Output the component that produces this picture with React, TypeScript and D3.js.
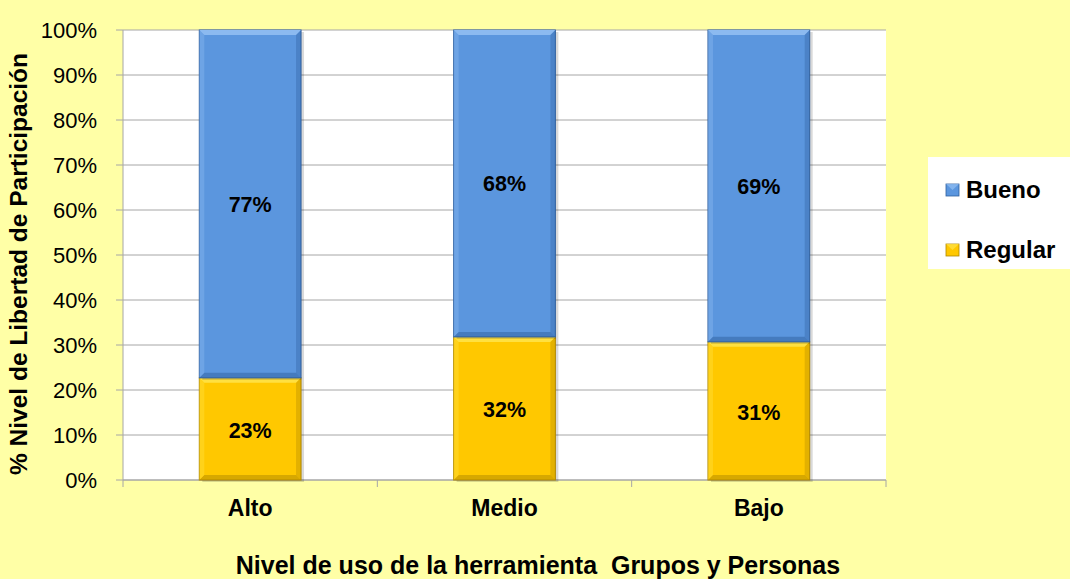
import React from "react";
import * as d3 from "d3";

const categories = ["Alto", "Medio", "Bajo"];
const regular = [22.7, 31.8, 30.7];
const bueno = [77.3, 68.2, 69.3];
const regularLabels = ["23%", "32%", "31%"];
const buenoLabels = ["77%", "68%", "69%"];
const yTicks = [0, 10, 20, 30, 40, 50, 60, 70, 80, 90, 100];
const seriesNames = ["Bueno", "Regular"];

const W = 1070, H = 579;
const left = 123, right = 886, top = 30, bottom = 480;
const font = "'Liberation Sans', Arial, sans-serif";

export default function App() {
  const x = d3.scaleBand().domain(categories).range([left, right]).paddingInner(0.6).paddingOuter(0.3);
  const xb = d3.scaleBand().domain(categories).range([left, right]);
  const y = d3.scaleLinear().domain([0, 100]).range([bottom, top]);
  const bw = x.bandwidth();
  const bev = 5;

  const bar = (cx: number, y0: number, y1: number, fill: string, light: string, dark: string, key: string) => {
    const x0 = cx, x1 = cx + bw;
    return (
      <g key={key}>
        <rect x={x0 + 3} y={y1 + 2} width={bw} height={y0 - y1} fill="#000" opacity={0.15} />
        <rect x={x0} y={y1} width={bw} height={y0 - y1} fill={fill} stroke={dark} strokeWidth={1} />
        <polygon points={`${x0},${y1} ${x1},${y1} ${x1 - bev},${y1 + bev} ${x0 + bev},${y1 + bev}`} fill={light} />
        <polygon points={`${x0},${y0} ${x1},${y0} ${x1 - bev},${y0 - bev} ${x0 + bev},${y0 - bev}`} fill={dark} opacity={0.5} />
        <polygon points={`${x1},${y1} ${x1},${y0} ${x1 - bev},${y0 - bev} ${x1 - bev},${y1 + bev}`} fill={dark} opacity={0.35} />
        <polygon points={`${x0},${y1} ${x0},${y0} ${x0 + bev},${y0 - bev} ${x0 + bev},${y1 + bev}`} fill={light} opacity={0.4} />
      </g>
    );
  };

  return (
    <svg width={W} height={H} style={{ position: "absolute", left: 0, top: 0, fontFamily: font }}>
      <rect x={0} y={0} width={W} height={H} fill="#FFFFA6" />
      <rect x={left} y={top} width={right - left} height={bottom - top} fill="#FFFFFF" />
      {yTicks.map((t) => (
        <g key={t}>
          <line x1={left} x2={right} y1={y(t)} y2={y(t)} stroke="#A6A6A6" strokeWidth={1} />
          <line x1={left - 7} x2={left} y1={y(t)} y2={y(t)} stroke="#A6A6A6" strokeWidth={1} />
          <text x={left - 26} y={y(t) + 7.5} textAnchor="end" fontSize={22} fill="#000">{t}%</text>
        </g>
      ))}
      <line x1={left} x2={left} y1={top} y2={bottom} stroke="#A6A6A6" />
      <line x1={left} x2={right} y1={bottom} y2={bottom} stroke="#A6A6A6" />
      {[...categories.map((c) => xb(c) as number), right].map((v, i) => (
        <line key={i} x1={v} x2={v} y1={bottom} y2={bottom + 7} stroke="#A6A6A6" />
      ))}
      {categories.map((c, i) => {
        const bx = x(c) as number;
        return (
          <g key={c}>
            {bar(bx, y(0), y(regular[i]), "#FFC800", "#FFE040", "#B08800", "r" + i)}
            {bar(bx, y(regular[i]), y(regular[i] + bueno[i]), "#5B96DE", "#8CBAF0", "#2F5F9E", "b" + i)}
            <text x={bx + bw / 2} y={(y(regular[i] + bueno[i]) + y(regular[i])) / 2 + 8} textAnchor="middle" fontSize={21.5} fontWeight="bold">{buenoLabels[i]}</text>
            <text x={bx + bw / 2} y={(y(0) + y(regular[i])) / 2 + 9} textAnchor="middle" fontSize={21.5} fontWeight="bold">{regularLabels[i]}</text>
            <text x={bx + bw / 2} y={516} textAnchor="middle" fontSize={23} fontWeight="bold">{c}</text>
          </g>
        );
      })}
      <text x={538} y={574} textAnchor="middle" fontSize={25} fontWeight="bold" style={{ whiteSpace: "pre" }}>Nivel de uso de la herramienta  Grupos y Personas</text>
      <text transform={`translate(27,264) rotate(-90)`} textAnchor="middle" fontSize={24.5} fontWeight="bold">% Nivel de Libertad de Participación</text>
      <rect x={928} y={157} width={142} height={112} fill="#FFFFFF" />
      {seriesNames.map((s, i) => {
        const ly = 190 + i * 60;
        const fill = i === 0 ? "#5B96DE" : "#FFC800";
        const dark = i === 0 ? "#2F5F9E" : "#B08800";
        const light = i === 0 ? "#8CBAF0" : "#FFE040";
        return (
          <g key={s}>
            <rect x={946} y={ly - 6} width={13} height={12} fill={fill} stroke={dark} strokeWidth={0.8} />
            <polygon points={`${946},${ly - 6} ${959},${ly - 6} ${952.5},${ly}`} fill={light} opacity={0.8} />
            <text x={966} y={ly + 8} fontSize={24} fontWeight="bold">{s}</text>
          </g>
        );
      })}
    </svg>
  );
}
